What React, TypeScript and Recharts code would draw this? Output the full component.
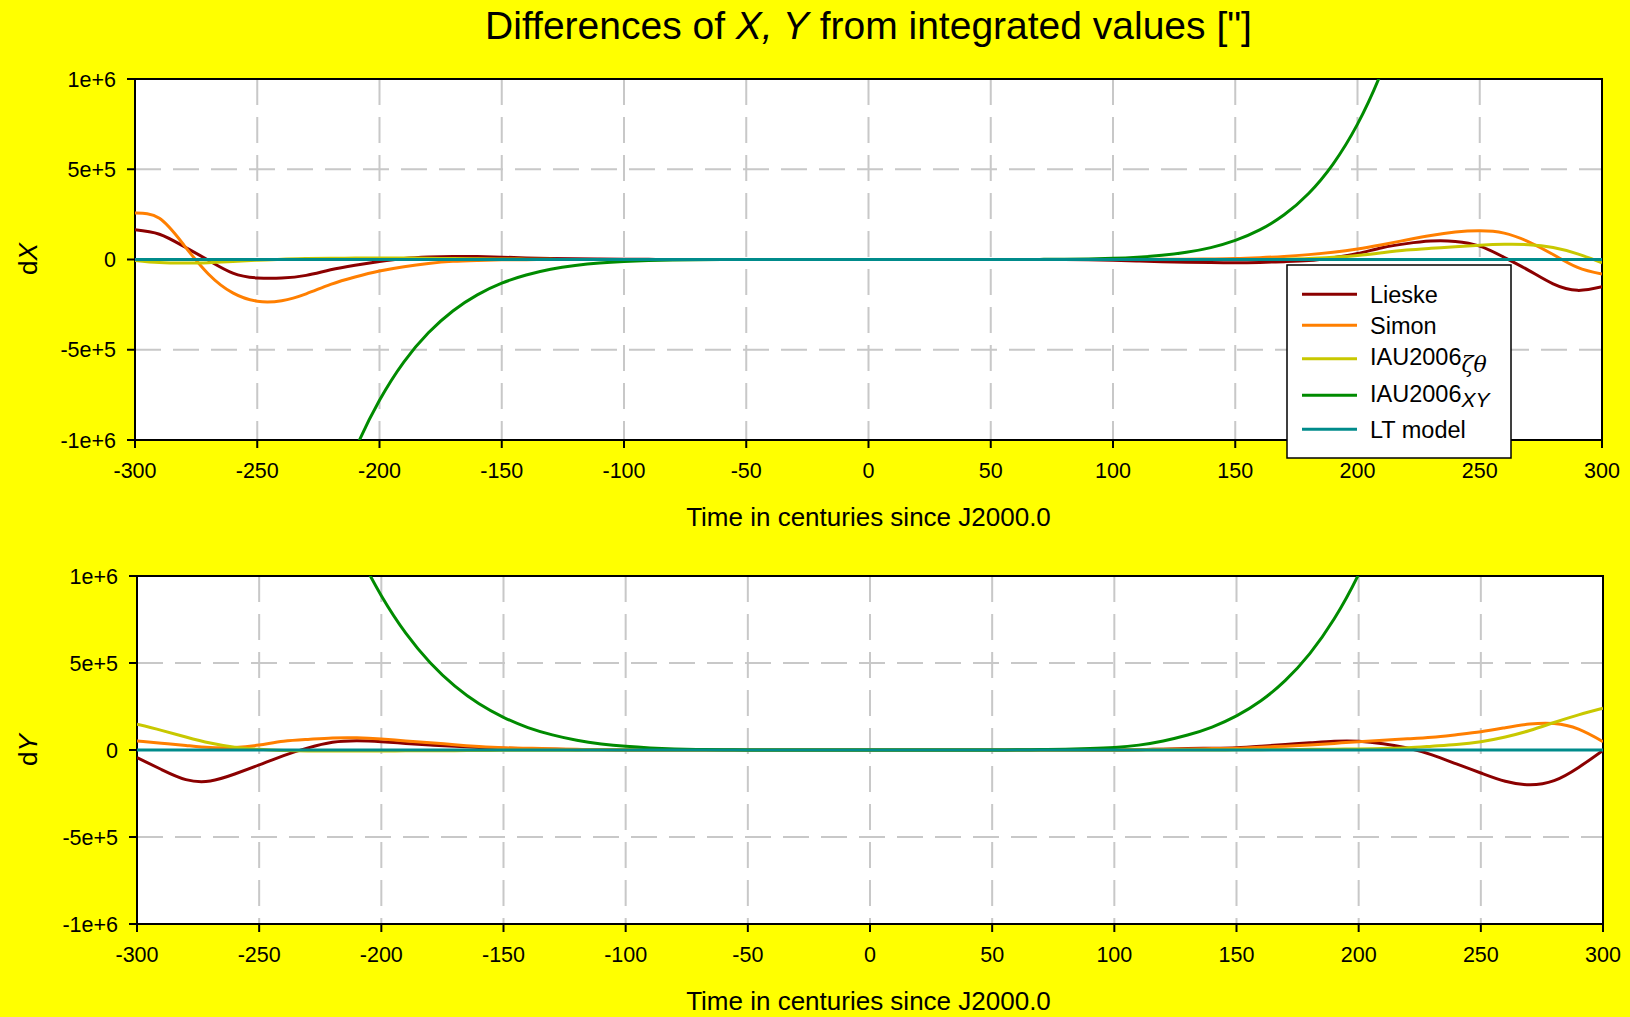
import React from "react";
import { LineChart, Line, XAxis, YAxis, CartesianGrid, ReferenceArea } from "recharts";

// Time in centuries since J2000.0
const T = [
  -300, -290, -280, -270, -260, -250, -240, -230, -220, -210,
  -200, -190, -180, -170, -160, -150, -140, -130, -120, -110,
  -100, -90, -80, -70, -60, -50, -40, -30, -20, -10,
  0, 10, 20, 30, 40, 50, 60, 70, 80, 90,
  100, 110, 120, 130, 140, 150, 160, 170, 180, 190,
  200, 210, 220, 230, 240, 250, 260, 270, 280, 290, 300,
];

const xTicks = [-300, -250, -200, -150, -100, -50, 0, 50, 100, 150, 200, 250, 300];
// values below are in units of 1000 arcsec
const yTicks = [-1000, -500, 0, 500, 1000];
const yTickLabels = ["-1e+6", "-5e+5", "0", "5e+5", "1e+6"];

// ---- dX (thousands of ") ----
const dX_Lieske = [
  165, 140, 72, -4, -75, -102, -103, -88, -57, -32,
  -11, 6, 14, 17, 16, 13, 9, 6, 4, 3,
  2, 1, 0, 0, 0, 0, 0, 0, 0, 0,
  0, 0, 0, 0, 0, 0, 0, 0, 0, -1,
  -4, -8, -12, -15, -17, -18, -16, -12, -6, 10,
  33, 65, 88, 102, 100, 74, 12, -60, -135, -171, -151,
];
const dX_Simon = [
  257, 228, 80, -80, -185, -231, -228, -190, -138, -97,
  -64, -40, -22, -10, -5, -2, -1, 0, 0, 0,
  0, 0, 0, 0, 0, 0, 0, 0, 0, 0,
  0, 0, 0, 0, 0, 0, 0, 0, 0, 0,
  0, 0, 1, 1.5, 3, 5, 10, 17, 27, 40,
  58, 82, 108, 133, 152, 159, 146, 98, 28, -44, -81,
];
const dX_IAUzt = [
  -5, -17, -20, -18, -11, -4, 2, 5, 7, 8,
  9, 8, 7, 5, 4, 3, 2, 1, 0, 0,
  0, 0, 0, 0, 0, 0, 0, 0, 0, 0,
  0, 0, 0, 0, 0, 0, 0, 0, 0, 0,
  0, 0, 0, 0, 0, 0, 0, 2, 5, 12,
  22, 37, 52, 62, 71, 79, 84, 82, 66, 31, -18,
];
const dX_IAUxy = [
  -9635, -7808, -6282, -5014, -3968, -3111, -2416, -1855, -1408, -1055,
  -780, -567, -406, -285, -196, -131, -86, -54, -33, -19,
  -10.6, -5.5, -2.7, -1.2, -0.45, -0.1, 0, 0, 0, 0,
  0, 0, 0, 0, 0, 0.05, 0.2, 0.6, 1.5, 3.3,
  6.7, 12.9, 23, 40, 66, 106, 164, 248, 366, 529,
  750, 1045, 1434, 1940, 2591, 3420, 4466, 5772, 7391, 9384, 11818,
];
const dX_LT = [
  0, 0, 0, 0, 0, 0, 0, 0, 0, 0,
  0, 0, 0, 0, 0, 0, 0, 0, 0, 0,
  0, 0, 0, 0, 0, 0, 0, 0, 0, 0,
  0, 0, 0, 0, 0, 0, 0, 0, 0, 0,
  0, 0, 0, 0, 0, 0, 0, 0, 0, 0,
  0, 0, 0, 0, 0, 0, 0, 0, 0, 0, 0,
];

// ---- dY (thousands of ") ----
const dY_Lieske = [
  -44, -112, -170, -178, -138, -86, -32, 12, 44, 53,
  48, 38, 29, 21, 15, 10, 7, 4, 2, 1,
  0, 0, 0, 0, 0, 0, 0, 0, 0, 0,
  0, 0, 0, 0, 0, 0, 0, 0, 0, 0,
  0, 2, 5, 8, 10, 13, 22, 32, 41, 50,
  50, 36, 11, -28, -80, -132, -180, -200, -176, -100, -2,
];
const dY_Simon = [
  52, 39, 26, 14, 15, 29, 50, 61, 69, 70,
  63, 52, 42, 30, 20, 13, 10, 7, 4, 2,
  1, 0, 0, 0, 0, 0, 0, 0, 0, 0,
  0, 0, 0, 0, 0, 0, 0, 0, 0, 0,
  0, 2, 4, 6, 8, 10, 16, 22, 29, 38,
  48, 56, 64, 73, 88, 105, 128, 149, 152, 120, 48,
];
const dY_IAUzt = [
  148, 113, 75, 40, 16, 4, -3, -6, -6, -6,
  -6, -5, -5, -4, -3, -2, -2, -1, -1, 0,
  0, 0, 0, 0, 0, 0, 0, 0, 0, 0,
  0, 0, 0, 0, 0, 0, 0, 0, 0, 0,
  0, 0, 0, 0, 0, 1, 2, 3, 4, 5,
  6, 9, 13, 22, 32, 48, 75, 112, 158, 202, 240,
];
const dY_IAUxy = [
  7922, 6596, 5458, 4485, 3658, 2960, 2374, 1886, 1484, 1154,
  887, 672, 502, 369, 266, 188, 129, 87, 56, 35,
  21, 11.9, 6.3, 3.1, 1.3, 0.4, 0, 0, 0, 0,
  0, 0, 0, 0, 0, 0.3, 1, 2.2, 4.5, 8.5,
  15, 28, 52, 86, 132, 196, 283, 400, 554, 754,
  1010, 1334, 1739, 2240, 2855, 3604, 4506, 5587, 6875, 8397, 10188,
];
const dY_LT = [
  0, 0, 0, 0, 0, 0, 0, 0, 0, 0,
  0, 0, 0, 0, 0, 0, 0, 0, 0, 0,
  0, 0, 0, 0, 0, 0, 0, 0, 0, 0,
  0, 0, 0, 0, 0, 0, 0, 0, 0, 0,
  0, 0, 0, 0, 0, 0, 0, 0, 0, 0,
  0, 0, 0, 0, 0, 0, 0, 0, 0, 0, 0,
];

const seriesNames = ["Lieske", "Simon", "IAU2006", "IAU2006", "LT model"];
const seriesSubs = ["", "", "ζθ", "XY", ""];
const seriesKeys = ["lieske", "simon", "iauzt", "iauxy", "lt"];
const seriesColors = ["#8B0000", "#FF7F00", "#C8C800", "#008B00", "#008B8B"];

const FONT = "'Liberation Sans', Arial, Helvetica, sans-serif";

const buildRows = (cols: number[][]) =>
  T.map((t, i) => {
    const row: Record<string, number> = { t };
    seriesKeys.forEach((k, j) => {
      row[k] = cols[j][i];
    });
    return row;
  });

const dataX = buildRows([dX_Lieske, dX_Simon, dX_IAUzt, dX_IAUxy, dX_LT]);
const dataY = buildRows([dY_Lieske, dY_Simon, dY_IAUzt, dY_IAUxy, dY_LT]);

const tickStyle = { fontSize: 21.5, fill: "#000", fontFamily: FONT };

function Panel({ data, margin, height }: { data: any[]; margin: any; height: number }) {
  return (
    <LineChart width={1630} height={height} data={data} margin={margin}>
      <CartesianGrid
        fill="#ffffff"
        stroke="#c8c8c8"
        strokeWidth={2}
        strokeDasharray="26 12"
        horizontalValues={yTicks}
        verticalValues={xTicks}
      />
      <XAxis
        type="number"
        dataKey="t"
        domain={[-300, 300]}
        ticks={xTicks}
        interval={0}
        allowDataOverflow
        height={60}
        tickSize={8}
        tickMargin={15}
        axisLine={false}
        tickLine={{ stroke: "#000", strokeWidth: 2 }}
        tick={tickStyle}
      />
      <YAxis
        type="number"
        domain={[-1000, 1000]}
        ticks={yTicks}
        interval={0}
        allowDataOverflow
        width={80}
        tickSize={8}
        tickMargin={11}
        axisLine={false}
        tickLine={{ stroke: "#000", strokeWidth: 2 }}
        tick={tickStyle}
        tickFormatter={(v: number) => yTickLabels[yTicks.indexOf(v)]}
      />
      {seriesKeys.map((k, j) => (
        <Line
          key={k}
          dataKey={k}
          name={seriesNames[j] + seriesSubs[j]}
          type="natural"
          stroke={seriesColors[j]}
          strokeWidth={3}
          dot={false}
          activeDot={false}
          isAnimationActive={false}
        />
      ))}
      <ReferenceArea
        x1={-300}
        x2={300}
        y1={-1000}
        y2={1000}
        fill="none"
        fillOpacity={0}
        stroke="#000"
        strokeWidth={2}
      />
    </LineChart>
  );
}

const legendRowY = [294.3, 325.3, 358.7, 395.3, 429.3];

function Overlay() {
  return (
    <svg
      width={1630}
      height={1017}
      style={{ position: "absolute", left: 0, top: 0, pointerEvents: "none" }}
      fontFamily={FONT}
    >
      <text x={868.5} y={38.5} fontSize={39} textAnchor="middle" fill="#000">
        Differences of <tspan fontStyle="italic">X, Y</tspan> from integrated values ["]
      </text>
      <text x={868.5} y={526} fontSize={26} textAnchor="middle" fill="#000">
        Time in centuries since J2000.0
      </text>
      <text x={868.5} y={1010} fontSize={26} textAnchor="middle" fill="#000">
        Time in centuries since J2000.0
      </text>
      <text x={37} y={259} fontSize={26} textAnchor="middle" fill="#000" transform="rotate(-90 37 259)">
        d<tspan fontStyle="italic">X</tspan>
      </text>
      <text x={37} y={750} fontSize={26} textAnchor="middle" fill="#000" transform="rotate(-90 37 750)">
        d<tspan fontStyle="italic">Y</tspan>
      </text>
      <g>
        <rect x={1287} y={265} width={224} height={193} fill="#fff" stroke="#000" strokeWidth={1.5} />
        {seriesNames.map((n, j) => {
          const y = legendRowY[j];
          const sub = seriesSubs[j];
          return (
            <g key={j}>
              <line x1={1302} x2={1357} y1={y} y2={y} stroke={seriesColors[j]} strokeWidth={3} />
              <text x={1370} y={sub ? y + 6.4 : y + 8.7} fontSize={23.5} fill="#000">
                {n}
                {sub === "ζθ" && (
                  <tspan dy={6.5} fontSize={22} fontStyle="italic" fontFamily="'DejaVu Serif', 'Liberation Serif', serif">
                    {sub}
                  </tspan>
                )}
                {sub === "XY" && (
                  <tspan dy={5} fontSize={21} fontStyle="italic">
                    {sub}
                  </tspan>
                )}
              </text>
            </g>
          );
        })}
      </g>
    </svg>
  );
}

export default function App() {
  return (
    <div style={{ position: "relative", width: 1630, height: 1017, background: "#FFFF00", overflow: "hidden" }}>
      <style>{"body{margin:0;}"}</style>
      <div style={{ position: "absolute", left: 0, top: 0 }}>
        <Panel data={dataX} height={540} margin={{ top: 79, right: 28, bottom: 40, left: 55 }} />
      </div>
      <div style={{ position: "absolute", left: 0, top: 480 }}>
        <Panel data={dataY} height={537} margin={{ top: 96, right: 27, bottom: 33, left: 57 }} />
      </div>
      <Overlay />
    </div>
  );
}
